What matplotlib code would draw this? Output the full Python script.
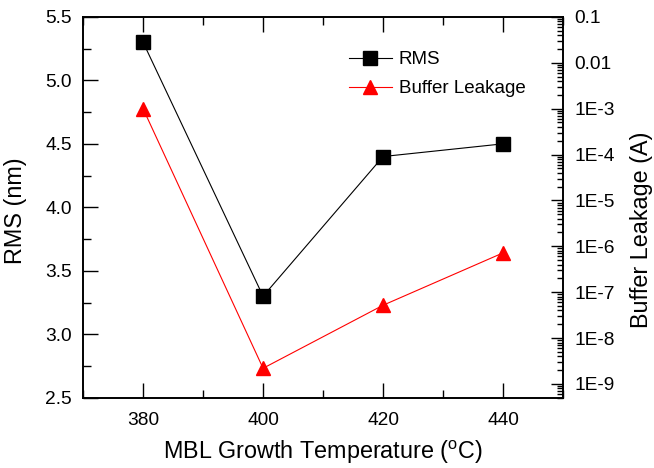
import numpy as np
import matplotlib
matplotlib.use('Agg')
import matplotlib.pyplot as plt
from matplotlib.ticker import FixedLocator, FixedFormatter, LogLocator, NullFormatter, MultipleLocator

plt.rcParams['font.family'] = ['Liberation Sans', 'DejaVu Sans']
plt.rcParams['mathtext.fontset'] = 'custom'
plt.rcParams['mathtext.rm'] = 'Liberation Sans'

# data
temps = [380, 400, 420, 440]
rms = [5.3, 3.3, 4.4, 4.5]
leakage = [1.0e-3, 2.2e-9, 5.2e-8, 7.2e-7]

right_ticks = [1e-1, 1e-2, 1e-3, 1e-4, 1e-5, 1e-6, 1e-7, 1e-8, 1e-9]
right_labels = ['0.1', '0.01', '1E-3', '1E-4', '1E-5', '1E-6', '1E-7', '1E-8', '1E-9']

fs = 13.8      # tick labels
fs_leg = 13.5  # legend
fs_lab = 16.8  # axis titles

fig = plt.figure(figsize=(6.54, 4.68), dpi=100)
ax = fig.add_axes([0.127, 0.150, 0.734, 0.814])
ax2 = ax.twinx()

l1, = ax.plot(temps, rms, color='black', lw=0.8, marker='s', ms=9.5,
              mec='black', mfc='black', label='RMS')
l2, = ax2.plot(temps, leakage, color='red', lw=0.8, marker='^', ms=10,
               mec='red', mfc='red', label='Buffer Leakage')

ax.set_xlim(370, 450)
ax.set_ylim(2.5, 5.5)
ax.xaxis.set_major_locator(FixedLocator(temps))
ax.xaxis.set_minor_locator(MultipleLocator(10))
ax.yaxis.set_major_locator(MultipleLocator(0.5))
ax.yaxis.set_minor_locator(MultipleLocator(0.25))
ax.yaxis.set_major_formatter(plt.FormatStrFormatter('%.1f'))

ax.tick_params(axis='x', which='both', direction='in', top=True, bottom=True,
               labelsize=fs, pad=10.5)
ax.tick_params(axis='x', which='major', length=11, width=1)
ax.tick_params(axis='x', which='minor', length=5.5, width=1)
ax.tick_params(axis='y', which='both', direction='in', left=True, right=False,
               labelsize=fs, pad=8)
ax.tick_params(axis='y', which='major', length=11, width=1)
ax.tick_params(axis='y', which='minor', length=5.5, width=1)

ax2.set_yscale('log')
ax2.set_ylim(5e-10, 0.1)
ax2.yaxis.set_major_locator(FixedLocator(right_ticks))
ax2.yaxis.set_major_formatter(FixedFormatter(right_labels))
ax2.yaxis.set_minor_locator(LogLocator(base=10, subs=np.arange(2, 10), numticks=20))
ax2.yaxis.set_minor_formatter(NullFormatter())
ax2.tick_params(axis='y', which='both', direction='in', labelsize=fs, pad=8)
ax2.tick_params(axis='y', which='major', length=8.5, width=1)
ax2.tick_params(axis='y', which='minor', length=4, width=1)

for a in (ax, ax2):
    for s in a.spines.values():
        s.set_linewidth(1.2)

ax.set_xlabel(r'MBL Growth Temperature ($^{\mathrm{o}}$C)', fontsize=fs_lab, labelpad=7)
ax.set_ylabel('RMS (nm)', fontsize=fs_lab)
ax.yaxis.set_label_coords(-0.117, 0.49)
ax2.set_ylabel('Buffer Leakage (A)', fontsize=fs_lab)
ax2.yaxis.set_label_coords(1.14, 0.44)

ax.legend(handles=[l1, l2], loc='upper left', bbox_to_anchor=(0.538, 0.93),
          frameon=False, fontsize=fs_leg, handlelength=2.3, handletextpad=0.37,
          labelspacing=0.65, borderaxespad=0)

fig.savefig('out.png', dpi=100)
